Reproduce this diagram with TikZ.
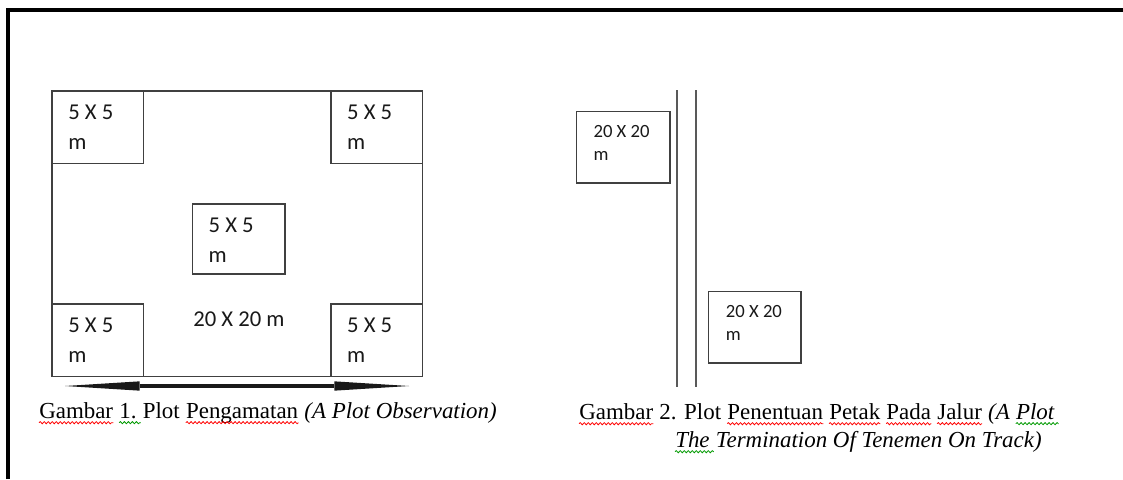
\documentclass[tikz,border=0pt]{standalone}
\usepackage{fontspec}
\setmainfont{Liberation Serif}
\newfontfamily\plotfont{Carlito}
\usetikzlibrary{positioning,arrows.meta,decorations.pathmorphing}

\begin{document}
\begin{tikzpicture}[x=0.75pt,y=-0.75pt]
 	\tikzstyle{frameline}=[line width=3pt, draw=black]
 	\tikzstyle{plotbox}=[rectangle, draw=black!75, line width=1.3pt, inner sep=0pt, anchor=north west]
 	\tikzstyle{subbox}=[plotbox, minimum width=68.8pt, minimum height=54.5pt]
 	\tikzstyle{tag}=[inner sep=0pt, align=left, text=black!90, font=\plotfont\fontsize{17}{22.5}\selectfont]
 	\tikzstyle{tagsm}=[inner sep=0pt, align=left, text=black!90, font=\plotfont\fontsize{14}{17.5}\selectfont]
 	\tikzstyle{road}=[draw=black!65, line width=1.5pt]
 	\tikzstyle{spanarrow}=[line width=3pt, draw=black!90, {Triangle[length=56pt,width=7pt,line width=0pt]}-{Triangle[length=56pt,width=7pt,line width=0pt]}]
 	\tikzstyle{capword}=[inner sep=0pt, font=\fontsize{17.2}{21}\selectfont]
 	\tikzstyle{capitword}=[inner sep=0pt, font=\fontsize{17.2}{21}\selectfont\itshape]
 	\tikzstyle{spell}=[decorate, decoration={snake, amplitude=0.8pt, segment length=3pt}, line width=0.6pt]
 	\useasboundingbox (0,0) rectangle (1123,479);
 	\draw[frameline] (8,479) |- (1123,10);
 	% plot pengamatan
 	\node[plotbox, minimum width=278pt, minimum height=214.3pt] (field) at (51,90) {};
 	\node[subbox, label={[tag, anchor=north west, xshift=12.75pt, yshift=-10.9pt]north west:5 X 5\\m}] (tl) at (field.north west) {};
 	\node[subbox, anchor=north east, label={[tag, anchor=north west, xshift=12.75pt, yshift=-10.9pt]north west:5 X 5\\m}] (tr) at (field.north east) {};
 	\node[subbox, anchor=south west, label={[tag, anchor=north west, xshift=12.75pt, yshift=-11pt]north west:5 X 5\\m}] (bl) at (field.south west) {};
 	\node[subbox, anchor=south east, label={[tag, anchor=north west, xshift=12.75pt, yshift=-11pt]north west:5 X 5\\m}] (br) at (field.south east) {};
 	\node[subbox, minimum width=69.5pt, minimum height=52.5pt, label={[tag, anchor=north west, xshift=12.5pt, yshift=-11pt]north west:5 X 5\\m}] (mid) at (191.7,203.3) {};
 	\node[tag] (size) [below=27pt of mid] {20 X 20 m};
 	\coordinate (tipL) at (65,386);
 	\coordinate (tipR) at (409,386);
 	\draw[spanarrow] (tipL) -- (tipR);
 	% plot pada jalur
 	\draw[road] (677.3,90) -- (677.3,386.7);
 	\draw[road] (696,90) -- (696,386.7);
 	\node[plotbox, minimum width=70pt, minimum height=53.3pt, label={[tagsm, anchor=north west, xshift=13.2pt, yshift=-10.7pt]north west:20 X 20\\m}] (trackA) at (575.7,110.7) {};
 	\node[plotbox, minimum width=69.3pt, minimum height=53.3pt, label={[tagsm, anchor=north west, xshift=13.5pt, yshift=-10.7pt]north west:20 X 20\\m}] (trackB) at (707.7,290.7) {};
 	% captions
 	\node[capword, anchor=base west] (g1a) at (39,418) {Gambar};
 	\node[capword, base right=4.3pt of g1a] (g1b) {1.};
 	\node[capword, base right=4.3pt of g1b] (g1c) {Plot};
 	\node[capword, base right=4.3pt of g1c] (g1d) {Pengamatan};
 	\node[capitword, base right=4.3pt of g1d] (g1e) {(A Plot Observation)};
 	\node[capword, anchor=base west] (g2a) at (579,419) {Gambar};
 	\node[capword, base right=4.3pt of g2a] (g2b) {2. Plot};
 	\node[capword, base right=4.3pt of g2b] (g2c) {Penentuan};
 	\node[capword, base right=4.3pt of g2c] (g2d) {Petak};
 	\node[capword, base right=4.3pt of g2d] (g2e) {Pada};
 	\node[capword, base right=4.3pt of g2e] (g2f) {Jalur};
 	\node[capitword, base right=4.3pt of g2f] (g2g) {(A};
 	\node[capitword, base right=4.3pt of g2g] (g2h) {Plot};
 	\node[capitword, anchor=base west] (g2i) at (675,447) {The};
 	\node[capitword, base right=4.3pt of g2i] (g2j) {Termination Of Tenemen On Track)};
 	\foreach \w in {g1a,g1d,g2a,g2c,g2d,g2e,g2f}
 		\draw[spell, red] ([yshift=-3.5pt]\w.base west) -- ([yshift=-3.5pt]\w.base east);
 	\foreach \w in {g1b,g2h,g2i}
 		\draw[spell, green!60!black] ([yshift=-3.5pt]\w.base west) -- ([xshift=3pt,yshift=-3.5pt]\w.base east);
\end{tikzpicture}
\end{document}
